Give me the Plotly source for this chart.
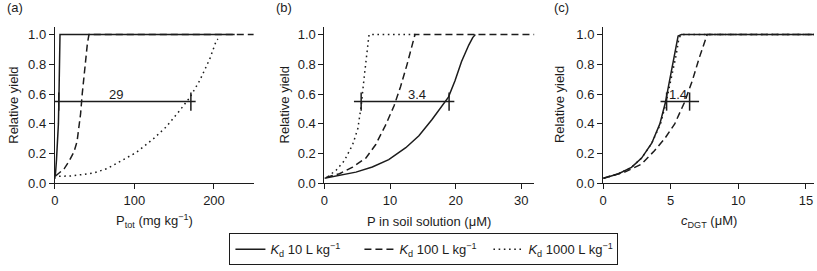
import plotly.graph_objects as go

# ---------------- data ----------------
series_names = ["<i>K</i><sub>d</sub> 10 L kg<sup>−1</sup>",
                "<i>K</i><sub>d</sub> 100 L kg<sup>−1</sup>",
                "<i>K</i><sub>d</sub> 1000 L kg<sup>−1</sup>"]

# panel (a): P_tot
a_x_kd10 = [0, 1, 2.2, 3.3, 4.6, 5.4, 6.0, 6.6, 226]
a_y_kd10 = [0.03, 0.07, 0.16, 0.27, 0.40, 0.62, 0.85, 1.0, 1.0]
a_x_kd100 = [1, 6, 12, 18, 24, 28, 30, 32.5, 34.5, 36.7, 38.7, 41, 43, 250]
a_y_kd100 = [0.05, 0.07, 0.10, 0.15, 0.21, 0.28, 0.36, 0.47, 0.60, 0.72, 0.84, 0.94, 1.0, 1.0]
a_x_kd1000 = [5.4, 20, 32, 49, 66, 82, 103, 124, 140, 157, 170, 182, 195, 203, 205]
a_y_kd1000 = [0.048, 0.05, 0.058, 0.07, 0.10, 0.15, 0.21, 0.30, 0.38, 0.49, 0.58, 0.69, 0.84, 0.96, 0.97]

# panel (b): P in soil solution
b_x_kd10 = [0, 2.3, 4.8, 7.3, 9.8, 12.4, 14.4, 16.4, 17.9, 18.9, 19.9, 20.9, 22.0, 22.6, 23.0]
b_y_kd10 = [0.035, 0.054, 0.076, 0.11, 0.16, 0.24, 0.32, 0.43, 0.52, 0.58, 0.69, 0.82, 0.93, 0.98, 1.0]
b_x_kd100 = [0.25, 2.3, 4.3, 6.3, 7.8, 9.3, 10.6, 11.6, 12.6, 13.4, 13.8, 32]
b_y_kd100 = [0.04, 0.065, 0.11, 0.17, 0.26, 0.39, 0.52, 0.65, 0.80, 0.93, 1.0, 1.0]
b_x_kd1000 = [0.5, 1.8, 3.0, 4.3, 5.1, 5.6, 6.1, 6.6, 6.8, 14.2]
b_y_kd1000 = [0.045, 0.09, 0.15, 0.26, 0.37, 0.52, 0.73, 0.95, 1.0, 1.0]

# panel (c): c_DGT
c_x_kd10 = [0.05, 1.15, 2.1, 2.85, 3.6, 4.2, 4.6, 4.9, 5.25, 5.55, 5.8, 15.6]
c_y_kd10 = [0.035, 0.065, 0.108, 0.17, 0.27, 0.40, 0.54, 0.69, 0.86, 0.99, 1.0, 1.0]
c_x_kd100 = [0, 1.6, 2.85, 3.8, 4.55, 5.3, 6.0, 6.6, 7.1, 7.5, 7.7, 15.6]
c_y_kd100 = [0.035, 0.076, 0.13, 0.22, 0.30, 0.40, 0.54, 0.69, 0.84, 0.95, 1.0, 1.0]
c_x_kd1000 = [0.05, 1.15, 2.1, 2.85, 3.6, 4.25, 4.65, 5.0, 5.4, 5.6, 5.75, 15.6]
c_y_kd1000 = [0.035, 0.065, 0.108, 0.17, 0.27, 0.40, 0.54, 0.69, 0.86, 0.97, 1.0, 1.0]

# horizontal ranges at relative yield 0.55
bar_y = 0.55
a_bar = [-5, 177]; a_marks = [5, 171]; a_label = "29"; a_label_x = 77
b_bar = [4.5, 19.8]; b_marks = [5.6, 19.0]; b_label = "3.4"; b_label_x = 14.1
c_bar = [4.25, 7.1]; c_marks = [4.7, 6.4]; c_label = "1.4"; c_label_x = 5.55

x_titles = ["P<sub>tot</sub> (mg kg<sup>−1</sup>)", "P in soil solution (μM)", "<i>c</i><sub>DGT</sub> (μM)"]
y_title = "Relative yield"
panel_labels = ["(a)", "(b)", "(c)"]
x_ticks = [[0, 100, 200], [0, 10, 20, 30], [0, 5, 10, 15]]
x_ranges = [[0, 250], [0, 32], [0, 15.6]]
y_ticks = [0, 0.2, 0.4, 0.6, 0.8, 1.0]

# ---------------- layout geometry ----------------
W, H = 817, 271
ink = "#1c1c1c"
font = "Liberation Sans, Arial, sans-serif"
dashes = ["solid", "7px,4px", "1.6px,3.6px"]
x_px = [(51, 251), (322, 533), (602, 814)]
y_px = (28, 189)
ydom = [1 - y_px[1] / H, 1 - y_px[0] / H]

fig = go.Figure()

panels = [
    ([a_x_kd10, a_x_kd100, a_x_kd1000], [a_y_kd10, a_y_kd100, a_y_kd1000], a_bar, a_marks, a_label, a_label_x),
    ([b_x_kd10, b_x_kd100, b_x_kd1000], [b_y_kd10, b_y_kd100, b_y_kd1000], b_bar, b_marks, b_label, b_label_x),
    ([c_x_kd10, c_x_kd100, c_x_kd1000], [c_y_kd10, c_y_kd100, c_y_kd1000], c_bar, c_marks, c_label, c_label_x),
]

annotations = []
for i, (xs, ys, bar, marks, label, label_x) in enumerate(panels):
    xa = "x" if i == 0 else f"x{i+1}"
    ya = "y" if i == 0 else f"y{i+1}"
    for k in range(3):
        fig.add_trace(go.Scatter(
            x=xs[k], y=ys[k], mode="lines", name=series_names[k],
            line=dict(color=ink, width=1.5, dash=dashes[k]),
            xaxis=xa, yaxis=ya, showlegend=(i == 0), legendrank=k + 1))
    fig.add_trace(go.Scatter(
        x=bar, y=[bar_y, bar_y], mode="lines", line=dict(color=ink, width=1.5),
        xaxis=xa, yaxis=ya, showlegend=False, cliponaxis=False))
    fig.add_trace(go.Scatter(
        x=marks, y=[bar_y] * len(marks), mode="markers",
        marker=dict(symbol="line-ns", size=13, line=dict(color=ink, width=1.5)),
        xaxis=xa, yaxis=ya, showlegend=False, cliponaxis=False))
    annotations.append(dict(x=label_x, y=0.6, xref=xa, yref=ya, text=label, showarrow=False,
                            font=dict(size=13, color=ink, family=font), yanchor="middle"))

    dom = [x_px[i][0] / W, x_px[i][1] / W]
    axis_common = dict(showline=True, linecolor=ink, linewidth=1, ticks="outside", ticklen=5,
                       tickcolor=ink, tickwidth=1, showgrid=False, zeroline=False,
                       tickfont=dict(size=13, color=ink, family=font))
    fig.layout[("xaxis" if i == 0 else f"xaxis{i+1}")] = dict(
        domain=dom, range=x_ranges[i], tickvals=x_ticks[i], anchor=ya, **axis_common)
    fig.layout[("yaxis" if i == 0 else f"yaxis{i+1}")] = dict(
        domain=ydom, range=[0, 1.05], tickvals=y_ticks, tickformat=".1f", anchor=xa, **axis_common)

    cx = (x_px[i][0] + x_px[i][1]) / 2
    annotations.append(dict(x=cx / W, y=1 - 228 / H, xref="paper", yref="paper", text=x_titles[i],
                            showarrow=False, font=dict(size=13, color=ink, family=font),
                            xanchor="center", yanchor="middle"))
    ytx = [10, 282, 559][i]
    annotations.append(dict(x=ytx / W, y=1 - 108 / H, xref="paper", yref="paper", text=y_title,
                            textangle=-90, showarrow=False, font=dict(size=13, color=ink, family=font),
                            xanchor="center", yanchor="middle"))
    plx = [1, 271, 551][i]
    annotations.append(dict(x=plx / W, y=1 - 8 / H, xref="paper", yref="paper", text=panel_labels[i],
                            showarrow=False, font=dict(size=13, color=ink, family=font),
                            xanchor="left", yanchor="middle"))

fig.update_layout(
    width=W, height=H, margin=dict(l=0, r=0, t=0, b=0),
    paper_bgcolor="white", plot_bgcolor="white",
    annotations=annotations,
    legend=dict(orientation="h", x=422 / W, y=1 - 257 / H, xanchor="center", yanchor="middle",
                bordercolor=ink, borderwidth=1, bgcolor="white",
                font=dict(size=13, color=ink, family=font), itemwidth=30,
                entrywidth=84, entrywidthmode="pixels",
                tracegroupgap=0, traceorder="normal"),
)

fig.write_html("out.html", config={"displayModeBar": False},
               post_script="document.body.style.margin='0';document.body.style.overflow='hidden';")
